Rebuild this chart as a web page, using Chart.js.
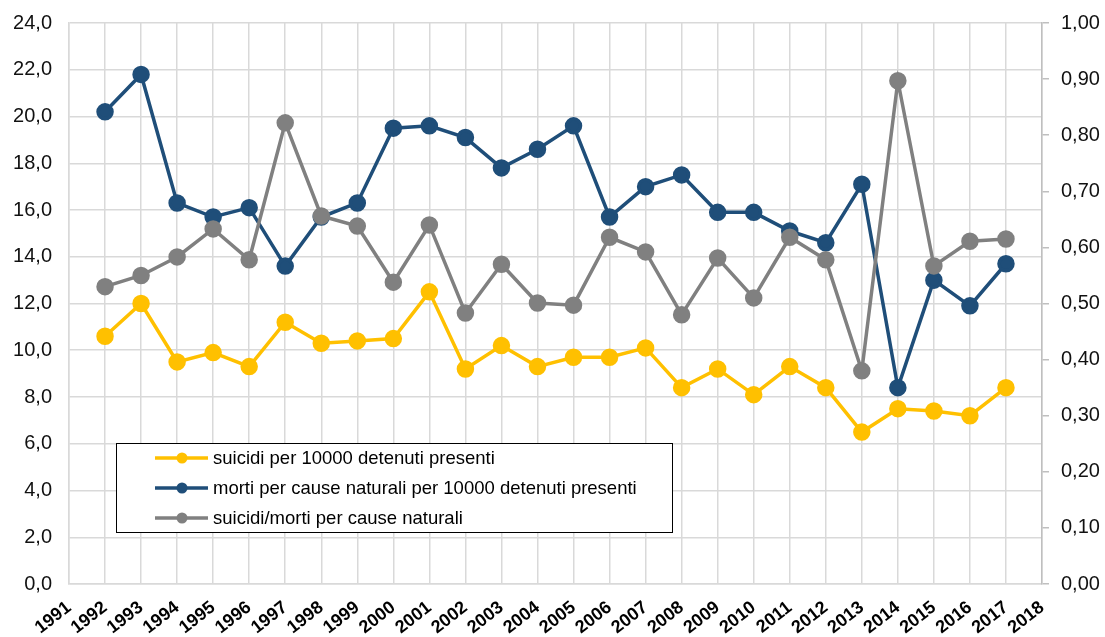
<!DOCTYPE html>
<html>
<head>
<meta charset="utf-8">
<script src="https://cdn.jsdelivr.net/npm/chart.js@4"></script>
<style>
  html, body { margin: 0; padding: 0; background: #fff; }
  #wrap { width: 1105px; height: 637px; position: relative; }
</style>
</head>
<body>
<div id="wrap"><canvas id="chart"></canvas></div>
<script>
// ==============================
// DATA
// ==============================
const years = [1992, 1993, 1994, 1995, 1996, 1997, 1998, 1999, 2000, 2001, 2002, 2003, 2004,
  2005, 2006, 2007, 2008, 2009, 2010, 2011, 2012, 2013, 2014, 2015, 2016, 2017];

const suicidi = [10.6, 12.0, 9.5, 9.9, 9.3, 11.2, 10.3, 10.4, 10.5, 12.5, 9.2, 10.2, 9.3,
  9.7, 9.7, 10.1, 8.4, 9.2, 8.1, 9.3, 8.4, 6.5, 7.5, 7.4, 7.2, 8.4];

const mortiNaturali = [20.2, 21.8, 16.3, 15.7, 16.1, 13.6, 15.7, 16.3, 19.5, 19.6, 19.1, 17.8, 18.6,
  19.6, 15.7, 17.0, 17.5, 15.9, 15.9, 15.1, 14.6, 17.1, 8.4, 13.0, 11.9, 13.7];

const rapporto = [0.53, 0.55, 0.583, 0.633, 0.578, 0.822, 0.656, 0.638, 0.538, 0.64, 0.483, 0.57, 0.501,
  0.497, 0.618, 0.592, 0.48, 0.581, 0.51, 0.618, 0.578, 0.38, 0.897, 0.567, 0.611, 0.615];

const seriesLabels = [
  "suicidi per 10000 detenuti presenti",
  "morti per cause naturali per 10000 detenuti presenti",
  "suicidi/morti per cause naturali"
];

const xMin = 1991;
const xMax = 2018;

// ==============================
// HELPERS
// ==============================
const FONT = "'Liberation Sans', Arial, sans-serif";

function pts(vals) {
  return vals.map((v, i) => ({ x: years[i], y: v }));
}

function comma(v, d) {
  return v.toFixed(d).replace(".", ",");
}

// custom legend box inside the plot
const boxLegend = {
  id: "boxLegend",
  afterDraw(chart) {
    const ctx = chart.ctx;
    const left = 116, top = 443, w = 556, h = 89;
    ctx.save();
    ctx.fillStyle = "#fff";
    ctx.fillRect(left, top, w, h);
    ctx.strokeStyle = "#000";
    ctx.lineWidth = 1;
    ctx.strokeRect(left + 0.5, top + 0.5, w, h);

    const rows = [458, 488, 518];
    chart.data.datasets.forEach((ds, i) => {
      const y = rows[i];
      ctx.strokeStyle = ds.borderColor;
      ctx.lineWidth = 3.5;
      ctx.beginPath();
      ctx.moveTo(155, y);
      ctx.lineTo(208, y);
      ctx.stroke();
      ctx.fillStyle = ds.borderColor;
      ctx.beginPath();
      ctx.arc(182, y, 5.5, 0, Math.PI * 2);
      ctx.fill();

      ctx.fillStyle = "#000";
      ctx.font = "18.5px " + FONT;
      ctx.textBaseline = "middle";
      ctx.fillText(ds.label, 213, y + 1);
    });
    ctx.restore();
  }
};

// ==============================
// CHART
// ==============================
const lineStyle = (color) => ({
  borderColor: color,
  backgroundColor: color,
  pointBackgroundColor: color,
  pointBorderColor: color,
  borderWidth: 3.5,
  pointRadius: 7,
  pointHoverRadius: 7,
  tension: 0,
  fill: false
});

new Chart(document.getElementById("chart"), {
  type: "line",
  data: {
    datasets: [
      { label: seriesLabels[0], data: pts(suicidi), yAxisID: "y", order: 2, ...lineStyle("#FFC000") },
      { label: seriesLabels[1], data: pts(mortiNaturali), yAxisID: "y", order: 1, ...lineStyle("#1F4E79") },
      { label: seriesLabels[2], data: pts(rapporto), yAxisID: "y1", order: 0, ...lineStyle("#808080") }
    ]
  },
  options: {
    responsive: true,
    maintainAspectRatio: false,
    animation: false,
    layout: { padding: { top: 23, left: 0, right: 0, bottom: 0 } },
    plugins: {
      legend: { display: false },
      tooltip: { enabled: false }
    },
    scales: {
      x: {
        type: "linear",
        min: xMin,
        max: xMax,
        afterFit(s) { s.height = 53; s.paddingLeft = 0; s.paddingRight = 0; },
        grid: { color: "#d9d9d9", lineWidth: 1.5, drawTicks: false },
        border: { color: "#d9d9d9", width: 1.5 },
        ticks: {
          stepSize: 1,
          autoSkip: false,
          minRotation: 38,
          maxRotation: 38,
          padding: 13,
          color: "#000",
          font: { family: FONT, size: 18, weight: "bold" },
          callback: (v) => String(v)
        }
      },
      y: {
        position: "left",
        min: 0,
        max: 24,
        afterFit(s) { s.width = 69; s.paddingTop = 0; s.paddingBottom = 0; },
        grid: { color: "#d9d9d9", lineWidth: 1.5, drawTicks: false },
        border: { color: "#d9d9d9", width: 1.5 },
        ticks: {
          stepSize: 2,
          padding: 17,
          color: "#111",
          font: { family: FONT, size: 20 },
          callback: (v) => comma(v, 1)
        }
      },
      y1: {
        position: "right",
        min: 0,
        max: 1,
        afterFit(s) { s.width = 63; s.paddingTop = 0; s.paddingBottom = 0; },
        grid: { drawOnChartArea: false, drawTicks: true, tickLength: 7, color: "#bfbfbf", lineWidth: 1.5 },
        border: { color: "#bfbfbf", width: 1.5 },
        ticks: {
          stepSize: 0.1,
          padding: 12,
          color: "#111",
          font: { family: FONT, size: 20 },
          callback: (v) => comma(v, 2)
        }
      }
    }
  },
  plugins: [boxLegend]
});
</script>
</body>
</html>
